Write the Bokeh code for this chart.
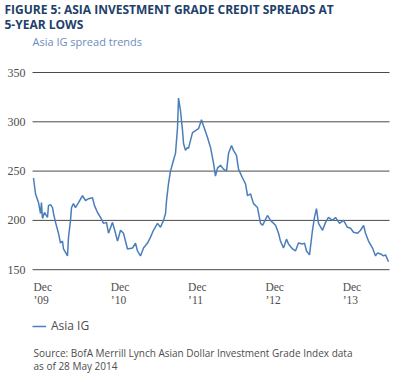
from bokeh.plotting import figure
from bokeh.models import ColumnDataSource, Label, LabelSet, Range1d, Legend, LegendItem
from bokeh.embed import file_html
from bokeh.resources import INLINE

title_lines = ["FIGURE 5: ASIA INVESTMENT GRADE CREDIT SPREADS AT", "5-YEAR LOWS"]
subtitle = "Asia IG spread trends"
series_name = "Asia IG"
source_lines = ["Source: BofA Merrill Lynch Asian Dollar Investment Grade Index data",
                "as of 28 May 2014"]
y_ticks = [150, 200, 250, 300, 350]
x_tick_pos = [2009.92, 2010.92, 2011.92, 2012.92, 2013.92]
x_tick_month = ["Dec", "Dec", "Dec", "Dec", "Dec"]
x_tick_year = ["\u201909", "\u201910", "\u201911", "\u201912", "\u201913"]

# decimal year
dates = [2009.920, 2009.946, 2009.985, 2010.011, 2010.023, 2010.036, 2010.062, 2010.101,
         2010.114, 2010.140, 2010.166, 2010.179, 2010.205, 2010.243, 2010.269, 2010.295,
         2010.308, 2010.360, 2010.373, 2010.399, 2010.412, 2010.437, 2010.463, 2010.502,
         2010.554, 2010.593, 2010.632, 2010.683, 2010.709, 2010.748, 2010.787, 2010.826,
         2010.864, 2010.890, 2010.942, 2010.981, 2011.007, 2011.046, 2011.084, 2011.136,
         2011.201, 2011.240, 2011.265, 2011.304, 2011.343, 2011.395, 2011.434, 2011.472,
         2011.524, 2011.563, 2011.602, 2011.628, 2011.641, 2011.666, 2011.692, 2011.731,
         2011.757, 2011.783, 2011.796, 2011.822, 2011.848, 2011.861, 2011.886, 2011.912,
         2011.925, 2011.977, 2012.016, 2012.055, 2012.093, 2012.119, 2012.171, 2012.210,
         2012.249, 2012.274, 2012.300, 2012.339, 2012.378, 2012.417, 2012.443, 2012.482,
         2012.507, 2012.546, 2012.572, 2012.624, 2012.663, 2012.689, 2012.727, 2012.766,
         2012.818, 2012.857, 2012.883, 2012.947, 2012.986, 2013.051, 2013.090, 2013.115,
         2013.154, 2013.193, 2013.219, 2013.271, 2013.309, 2013.348, 2013.400, 2013.426,
         2013.452, 2013.491, 2013.529, 2013.555, 2013.581, 2013.607, 2013.659, 2013.698,
         2013.736, 2013.788, 2013.827, 2013.879, 2013.931, 2013.982, 2014.021, 2014.060,
         2014.112, 2014.151, 2014.190, 2014.215, 2014.254, 2014.306, 2014.345, 2014.371,
         2014.410, 2014.448, 2014.474, 2014.513]
spread = [243, 227, 218, 207, 218, 202, 208, 203,
          215, 216, 213, 207, 198, 187, 177, 179,
          171, 164, 183, 200, 213, 217, 213, 218,
          225, 220, 222, 223, 215, 208, 203, 197,
          198, 187, 198, 187, 179, 190, 187, 171,
          172, 177, 169, 164, 172, 177, 183, 190,
          197, 193, 200, 207, 220, 237, 250, 261,
          268, 294, 324, 311, 291, 278, 271, 274,
          273, 289, 291, 293, 302, 296, 284, 274,
          258, 245, 253, 256, 252, 250, 268, 276,
          271, 266, 252, 243, 237, 225, 227, 217,
          213, 197, 195, 205, 200, 195, 187, 179,
          172, 181, 176, 171, 169, 177, 176, 177,
          169, 165, 190, 203, 212, 197, 190, 198,
          203, 200, 203, 197, 200, 193, 192, 188,
          187, 190, 195, 187, 179, 172, 164, 167,
          166, 164, 165, 158]

W, H = 395, 375
FONT = "Open Sans"
GREY = "#4d4d4d"

# pixel <-> data mapping (the frame covers the whole canvas)
PX_PER_YEAR = 77.3
PX_PER_UNIT = 0.986
def px2x(px):
    return x_tick_pos[0] + (px - 33) / PX_PER_YEAR
def py2y(py):
    return y_ticks[-1] - (py - 72) / PX_PER_UNIT

p = figure(width=W, height=H, output_backend="svg", toolbar_location=None,
           x_range=Range1d(px2x(0), px2x(W)), y_range=Range1d(py2y(H), py2y(0)),
           x_axis_location=None, y_axis_location=None, min_border=0)
p.outline_line_color = None
p.background_fill_color = "white"
p.border_fill_color = "white"
p.grid.visible = False

# horizontal gridlines
n = len(y_ticks)
p.segment(x0=[px2x(32)] * n, x1=[px2x(389)] * n, y0=y_ticks, y1=y_ticks,
          line_color="#4a4a4a", line_width=1)

src = ColumnDataSource(dict(date=dates, spread=spread))
r = p.line("date", "spread", source=src, line_color="#4a7ebb", line_width=1.5)

leg = Legend(items=[LegendItem(label=series_name, renderers=[r])], location=(32, 41),
             border_line_color=None, background_fill_alpha=0, padding=0, margin=0,
             glyph_width=14, glyph_height=14, label_standoff=5,
             label_text_font=FONT, label_text_font_size="12px", label_text_color=GREY)
p.add_layout(leg)

# y tick labels
ysrc = ColumnDataSource(dict(y=y_ticks, t=[str(v) for v in y_ticks]))
p.add_layout(LabelSet(x=25, x_units="screen", y="y", text="t", source=ysrc,
                      text_font=FONT, text_font_size="12px", text_color=GREY,
                      text_align="right", text_baseline="middle"))

# x tick labels
tsrc = ColumnDataSource(dict(x=x_tick_pos, month=x_tick_month, year=x_tick_year))
for col, py in (("month", 286), ("year", 299)):
    p.add_layout(LabelSet(x="x", y=H - py, y_units="screen", text=col, source=tsrc,
                          text_font=FONT, text_font_size="11.5px", text_color=GREY,
                          text_align="left", text_baseline="middle"))

# titles
for txt, py in zip(title_lines, (8.5, 23.5)):
    p.add_layout(Label(x=4, y=H - py, x_units="screen", y_units="screen", text=txt,
                       text_font=FONT, text_font_style="bold", text_font_size="12px",
                       text_color="#22406a", text_baseline="middle"))
p.add_layout(Label(x=32, y=H - 41, x_units="screen", y_units="screen", text=subtitle,
                   text_font=FONT, text_font_size="11px", text_color="#6f8bbd",
                   text_baseline="middle"))

for txt, py in zip(source_lines, (352, 365)):
    p.add_layout(Label(x=33, y=H - py, x_units="screen", y_units="screen", text=txt,
                       text_font=FONT, text_font_size="10px", text_color=GREY,
                       text_baseline="middle"))

open("out.html", "w").write(file_html(p, INLINE))
